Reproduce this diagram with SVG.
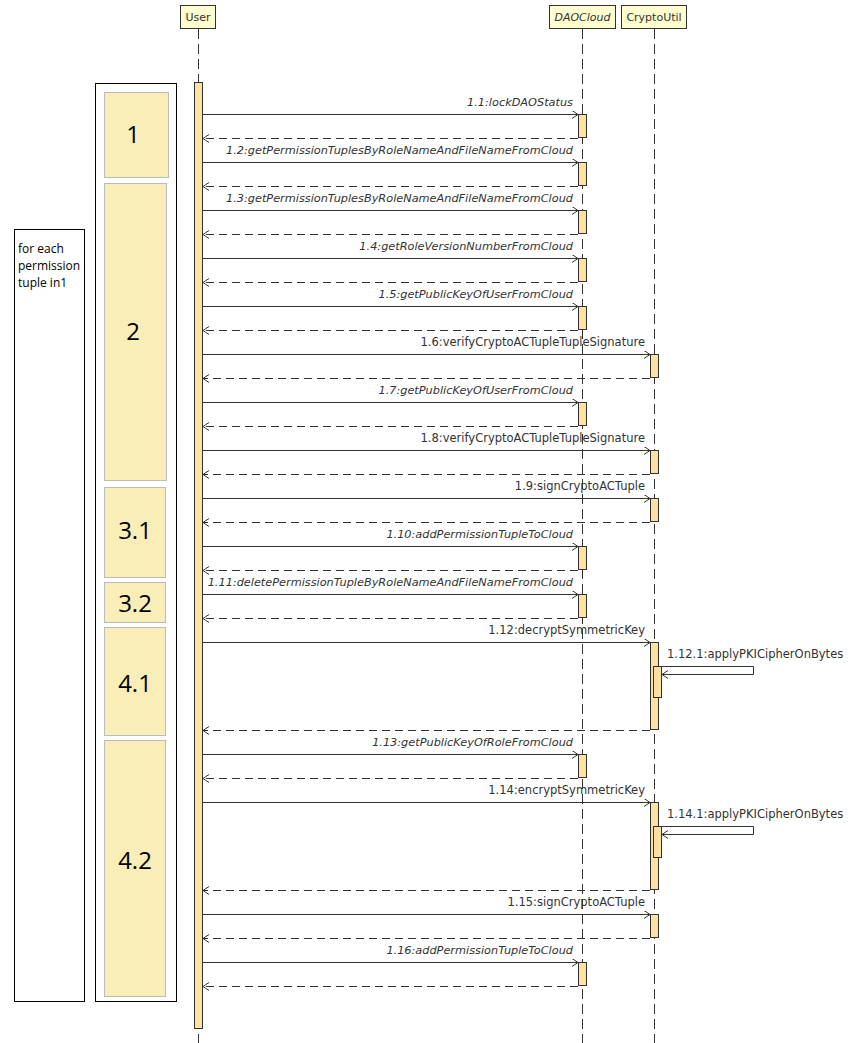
<svg xmlns="http://www.w3.org/2000/svg" width="859" height="1043" viewBox="0 0 859 1043">
<style>
.hdr{fill:#FEFECE;stroke:#333;stroke-width:1}
.ht{font-family:"DejaVu Sans",sans-serif;font-size:11px;fill:#333;text-anchor:middle}
.life{stroke:#333;stroke-width:1;stroke-dasharray:10,5;fill:none}
.act{fill:#FFE0A3;stroke:#333;stroke-width:1}
.msg{stroke:#333;stroke-width:1;fill:none;marker-end:url(#ah)}
.ret{stroke:#333;stroke-width:1;fill:none;stroke-dasharray:8,5;marker-end:url(#ah)}
.lbl{font-family:"DejaVu Sans",sans-serif;font-size:11.5px;fill:#333;text-anchor:end}
.it{font-style:italic;font-size:11.3px}
.grp{fill:#F9EDB8;stroke:#BBBBBB;stroke-width:1}
.gt{font-family:"Open Sans","Liberation Sans",sans-serif;font-size:24px;fill:#000;text-anchor:middle}
.box{fill:#fff;stroke:#000;stroke-width:1}
.note{font-family:"Open Sans","Liberation Sans",sans-serif;font-size:12px;fill:#000}
</style>
<defs>
<marker id="ah" markerWidth="10" markerHeight="10" refX="6" refY="4" orient="auto" markerUnits="userSpaceOnUse">
<path d="M0,0 L6,4 L0,8" fill="none" stroke="#333" stroke-width="1"/>
</marker>
</defs>
<rect width="859" height="1043" fill="#fff"/>

<g id="loop-box">
<rect class="box" x="14.5" y="229.5" width="70" height="772"/>
<text class="note" x="18" y="253">for each</text>
<text class="note" x="18" y="270">permission</text>
<text class="note" x="18" y="287">tuple in1</text>
</g>
<g id="steps-box">
<rect class="box" x="95.5" y="83.5" width="81" height="918"/>
</g>
<g id="step-1"><rect class="grp" x="104.5" y="92.5" width="64" height="85"/><text class="gt" x="133" y="143">1</text></g>
<g id="step-2"><rect class="grp" x="104.5" y="183.5" width="62" height="297"/><text class="gt" x="133" y="340">2</text></g>
<g id="step-3-1"><rect class="grp" x="104.5" y="487.5" width="61" height="90"/><text class="gt" x="135" y="539">3.1</text></g>
<g id="step-3-2"><rect class="grp" x="104.5" y="582.5" width="61" height="40"/><text class="gt" x="135" y="612">3.2</text></g>
<g id="step-4-1"><rect class="grp" x="104.5" y="627.5" width="61" height="108"/><text class="gt" x="135" y="692">4.1</text></g>
<g id="step-4-2"><rect class="grp" x="104.5" y="740.5" width="61" height="256"/><text class="gt" x="135" y="869">4.2</text></g>

<g id="lifelines">
<line class="life" x1="198.5" y1="29" x2="198.5" y2="1043"/>
<line class="life" x1="582.5" y1="29" x2="582.5" y2="1043"/>
<line class="life" x1="654.5" y1="29" x2="654.5" y2="1043"/>
</g>

<g id="User"><rect class="hdr" x="180.5" y="5.5" width="35" height="23"/><text class="ht" x="198" y="21">User</text></g>
<g id="DAOCloud"><rect class="hdr" x="549.5" y="5.5" width="66" height="23"/><text class="ht" x="582.5" y="21" font-style="italic">DAOCloud</text></g>
<g id="CryptoUtil"><rect class="hdr" x="621.5" y="5.5" width="65" height="23"/><text class="ht" x="654" y="21">CryptoUtil</text></g>

<g id="activations">
<rect class="act" x="194.5" y="82.5" width="8" height="946"/>
<rect class="act" x="578.5" y="114.5" width="8" height="23"/>
<rect class="act" x="578.5" y="162.5" width="8" height="23"/>
<rect class="act" x="578.5" y="210.5" width="8" height="23"/>
<rect class="act" x="578.5" y="258.5" width="8" height="23"/>
<rect class="act" x="578.5" y="306.5" width="8" height="23"/>
<rect class="act" x="650.5" y="354.5" width="8" height="23"/>
<rect class="act" x="578.5" y="402.5" width="8" height="23"/>
<rect class="act" x="650.5" y="450.5" width="8" height="23"/>
<rect class="act" x="650.5" y="498.5" width="8" height="23"/>
<rect class="act" x="578.5" y="546.5" width="8" height="23"/>
<rect class="act" x="578.5" y="594.5" width="8" height="23"/>
<rect class="act" x="650.5" y="642.5" width="8" height="87"/>
<rect class="act" x="653.5" y="666.5" width="8" height="31"/>
<rect class="act" x="578.5" y="754.5" width="8" height="23"/>
<rect class="act" x="650.5" y="802.5" width="8" height="87"/>
<rect class="act" x="653.5" y="826.5" width="8" height="31"/>
<rect class="act" x="650.5" y="914.5" width="8" height="23"/>
<rect class="act" x="578.5" y="962.5" width="8" height="23"/>
</g>

<g id="connectors">
<line class="msg" x1="203" y1="114.5" x2="578" y2="114.5"/><line class="ret" x1="578" y1="138.5" x2="203" y2="138.5"/>
<line class="msg" x1="203" y1="162.5" x2="578" y2="162.5"/><line class="ret" x1="578" y1="186.5" x2="203" y2="186.5"/>
<line class="msg" x1="203" y1="210.5" x2="578" y2="210.5"/><line class="ret" x1="578" y1="234.5" x2="203" y2="234.5"/>
<line class="msg" x1="203" y1="258.5" x2="578" y2="258.5"/><line class="ret" x1="578" y1="282.5" x2="203" y2="282.5"/>
<line class="msg" x1="203" y1="306.5" x2="578" y2="306.5"/><line class="ret" x1="578" y1="330.5" x2="203" y2="330.5"/>
<line class="msg" x1="203" y1="354.5" x2="650" y2="354.5"/><line class="ret" x1="650" y1="378.5" x2="203" y2="378.5"/>
<line class="msg" x1="203" y1="402.5" x2="578" y2="402.5"/><line class="ret" x1="578" y1="426.5" x2="203" y2="426.5"/>
<line class="msg" x1="203" y1="450.5" x2="650" y2="450.5"/><line class="ret" x1="650" y1="474.5" x2="203" y2="474.5"/>
<line class="msg" x1="203" y1="498.5" x2="650" y2="498.5"/><line class="ret" x1="650" y1="522.5" x2="203" y2="522.5"/>
<line class="msg" x1="203" y1="546.5" x2="578" y2="546.5"/><line class="ret" x1="578" y1="570.5" x2="203" y2="570.5"/>
<line class="msg" x1="203" y1="594.5" x2="578" y2="594.5"/><line class="ret" x1="578" y1="618.5" x2="203" y2="618.5"/>
<line class="msg" x1="203" y1="642.5" x2="650" y2="642.5"/>
<path class="msg" d="M659,666.5 H753.5 V674.5 H662"/>
<line class="ret" x1="650" y1="730.5" x2="203" y2="730.5"/>
<line class="msg" x1="203" y1="754.5" x2="578" y2="754.5"/><line class="ret" x1="578" y1="778.5" x2="203" y2="778.5"/>
<line class="msg" x1="203" y1="802.5" x2="650" y2="802.5"/>
<path class="msg" d="M659,826.5 H753.5 V834.5 H662"/>
<line class="ret" x1="650" y1="890.5" x2="203" y2="890.5"/>
<line class="msg" x1="203" y1="914.5" x2="650" y2="914.5"/><line class="ret" x1="650" y1="938.5" x2="203" y2="938.5"/>
<line class="msg" x1="203" y1="962.5" x2="578" y2="962.5"/><line class="ret" x1="578" y1="986.5" x2="203" y2="986.5"/>
</g>

<g id="labels">
<text class="lbl it" x="573" y="106">1.1:lockDAOStatus</text>
<text class="lbl it" x="573" y="154">1.2:getPermissionTuplesByRoleNameAndFileNameFromCloud</text>
<text class="lbl it" x="573" y="202">1.3:getPermissionTuplesByRoleNameAndFileNameFromCloud</text>
<text class="lbl it" x="573" y="250">1.4:getRoleVersionNumberFromCloud</text>
<text class="lbl it" x="573" y="298">1.5:getPublicKeyOfUserFromCloud</text>
<text class="lbl" x="645" y="346">1.6:verifyCryptoACTupleTupleSignature</text>
<text class="lbl it" x="573" y="394">1.7:getPublicKeyOfUserFromCloud</text>
<text class="lbl" x="645" y="442">1.8:verifyCryptoACTupleTupleSignature</text>
<text class="lbl" x="645" y="490">1.9:signCryptoACTuple</text>
<text class="lbl it" x="573" y="538">1.10:addPermissionTupleToCloud</text>
<text class="lbl it" x="573" y="586">1.11:deletePermissionTupleByRoleNameAndFileNameFromCloud</text>
<text class="lbl" x="645" y="634">1.12:decryptSymmetricKey</text>
<text class="lbl" x="667" y="658" style="text-anchor:start">1.12.1:applyPKICipherOnBytes</text>
<text class="lbl it" x="573" y="746">1.13:getPublicKeyOfRoleFromCloud</text>
<text class="lbl" x="645" y="794">1.14:encryptSymmetricKey</text>
<text class="lbl" x="667" y="818" style="text-anchor:start">1.14.1:applyPKICipherOnBytes</text>
<text class="lbl" x="645" y="906">1.15:signCryptoACTuple</text>
<text class="lbl it" x="573" y="954">1.16:addPermissionTupleToCloud</text>
</g>
</svg>
